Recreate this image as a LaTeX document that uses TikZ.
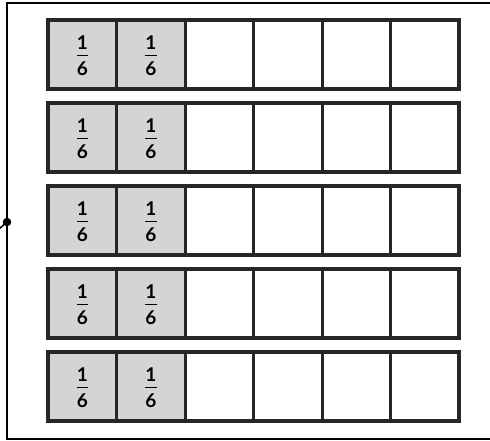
\documentclass[tikz,border=0pt]{standalone}
\usepackage{xcolor}
\usepackage{amsmath}
\usepackage{fontspec}
\setsansfont{Lato}
\usepackage{tikz}
\usetikzlibrary{calc}

\definecolor{cellgray}{RGB}{211,212,214}
\definecolor{barline}{RGB}{38,38,38}
\newcommand{\fracdigit}[1]{\mbox{\sffamily\bfseries\fontsize{19}{19}\selectfont #1}}
\newcommand{\onesixth}{$\genfrac{}{}{1.8pt}{0}{\fracdigit{1}}{\fracdigit{6}}$}

\begin{document}
\begin{tikzpicture}[x=1pt,y=-1pt,
            cellbox/.style={draw=barline, line width=3pt},
            shaded/.style={cellbox, fill=cellgray},
            barframe/.style={draw=barline, line width=4pt},
            fraclab/.style={inner sep=0pt},
          ]
          \useasboundingbox (0,0) rectangle (490,441);
          % outer frame, open to the right
          \draw[line width=2pt] (492,3) -- (7,3) -- (7,439) -- (492,439);
          \node[circle, fill=black, inner sep=0pt, minimum size=8.5pt] (pin) at (7,222) {};
          \coordinate (stub) at (-1,229);
          \draw[line width=1.5pt] (pin.center) -- (stub);
          % five bars of sixths
          \foreach \i in {0,...,4} {
            \pgfmathsetmacro{\barTop}{20+83*\i}
            \foreach \j in {0,...,5} {
              \pgfmathsetmacro{\cellL}{48+68.5*\j}
              \ifnum\j<2
                \draw[shaded] (\cellL,\barTop) rectangle ++(68.5,69);
              \else
                \draw[cellbox] (\cellL,\barTop) rectangle ++(68.5,69);
              \fi
            }
            \draw[barframe] (48,\barTop) rectangle (459,\barTop+69);
            \node[fraclab] (frac\i a) at (82.5,\barTop+35.5) {\onesixth};
            \node[fraclab] (frac\i b) at (151,\barTop+35.5) {\onesixth};
          }
        \end{tikzpicture}
\end{document}
